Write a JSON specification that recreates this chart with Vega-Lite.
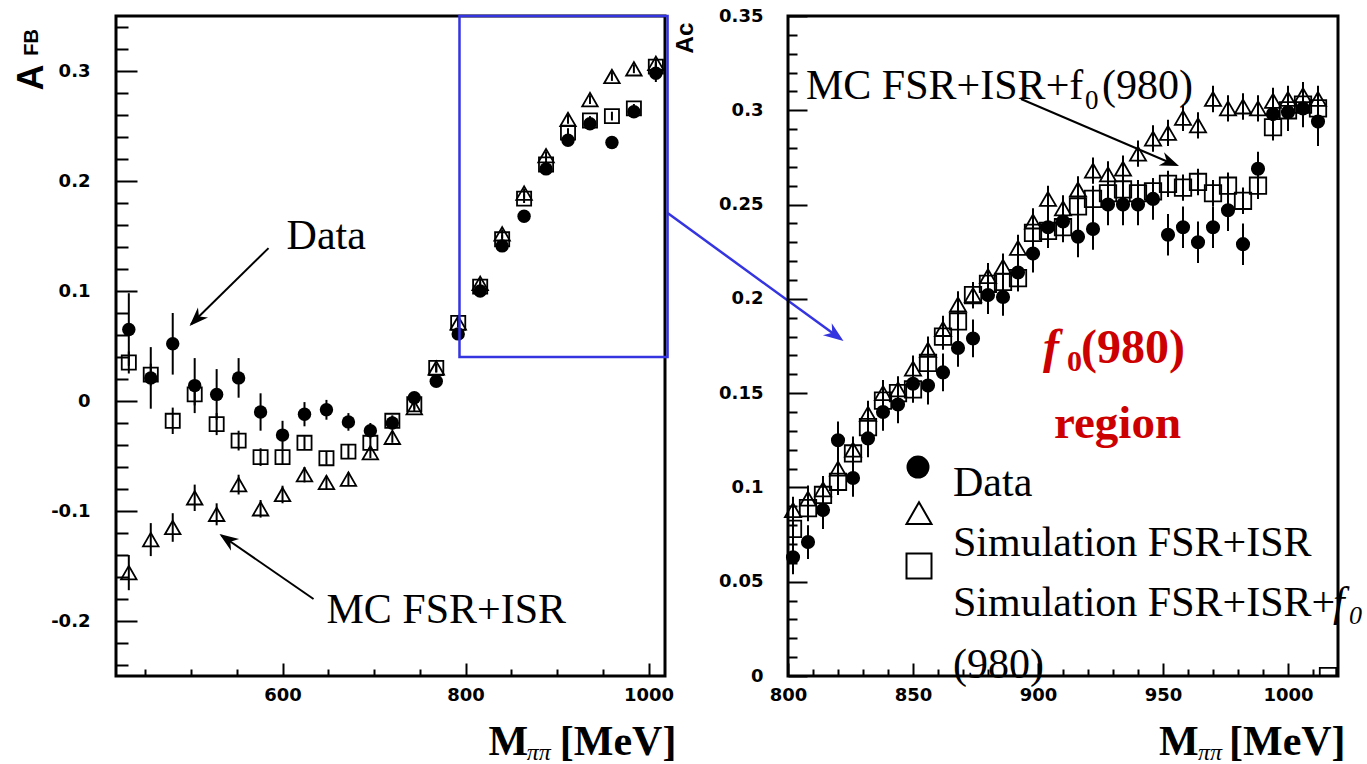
{
  "$schema": "https://vega.github.io/schema/vega-lite/v6.json",
  "background": "white",
  "padding": {"left": 12, "top": 5, "right": 0, "bottom": 0},
  "bounds": "flush",
  "spacing": 123,
  "config": {
    "view": {"stroke": "black", "strokeWidth": 3},
    "axis": {
      "domain": false, "grid": false,
      "labelFont": "DejaVu Sans", "labelFontWeight": "bold", "labelFontSize": 18, "labelColor": "black",
      "tickColor": "black", "tickWidth": 2, "tickCount": 200,
      "labelFlush": false, "labelOverlap": false, "labelBound": false
    },
    "text": {"font": "Liberation Serif", "fontSize": 42, "color": "black", "align": "left", "baseline": "alphabetic"}
  },
  "datasets": {
    "left": [
      {"M": 432, "series": "data", "v": 0.065, "err": 0.033}, {"M": 432, "series": "fsr", "v": -0.156, "err": 0.016}, {"M": 432, "series": "f0", "v": 0.035, "err": 0.01},
      {"M": 456, "series": "data", "v": 0.021, "err": 0.028}, {"M": 456, "series": "fsr", "v": -0.126, "err": 0.015}, {"M": 456, "series": "f0", "v": 0.024, "err": 0.01},
      {"M": 480, "series": "data", "v": 0.052, "err": 0.028}, {"M": 480, "series": "fsr", "v": -0.115, "err": 0.013}, {"M": 480, "series": "f0", "v": -0.018, "err": 0.012},
      {"M": 504, "series": "data", "v": 0.014, "err": 0.025}, {"M": 504, "series": "fsr", "v": -0.088, "err": 0.012}, {"M": 504, "series": "f0", "v": 0.006, "err": 0.01},
      {"M": 528, "series": "data", "v": 0.006, "err": 0.023}, {"M": 528, "series": "fsr", "v": -0.103, "err": 0.01}, {"M": 528, "series": "f0", "v": -0.021, "err": 0.01},
      {"M": 552, "series": "data", "v": 0.021, "err": 0.018}, {"M": 552, "series": "fsr", "v": -0.076, "err": 0.009}, {"M": 552, "series": "f0", "v": -0.036, "err": 0.009},
      {"M": 576, "series": "data", "v": -0.01, "err": 0.017}, {"M": 576, "series": "fsr", "v": -0.098, "err": 0.008}, {"M": 576, "series": "f0", "v": -0.051, "err": 0.008},
      {"M": 600, "series": "data", "v": -0.031, "err": 0.013}, {"M": 600, "series": "fsr", "v": -0.085, "err": 0.008}, {"M": 600, "series": "f0", "v": -0.051, "err": 0.007},
      {"M": 624, "series": "data", "v": -0.012, "err": 0.011}, {"M": 624, "series": "fsr", "v": -0.067, "err": 0.007}, {"M": 624, "series": "f0", "v": -0.038, "err": 0.006},
      {"M": 648, "series": "data", "v": -0.008, "err": 0.009}, {"M": 648, "series": "fsr", "v": -0.074, "err": 0.006}, {"M": 648, "series": "f0", "v": -0.052, "err": 0.006},
      {"M": 672, "series": "data", "v": -0.019, "err": 0.008}, {"M": 672, "series": "fsr", "v": -0.071, "err": 0.006}, {"M": 672, "series": "f0", "v": -0.046, "err": 0.006},
      {"M": 696, "series": "data", "v": -0.027, "err": 0.007}, {"M": 696, "series": "fsr", "v": -0.047, "err": 0.005}, {"M": 696, "series": "f0", "v": -0.038, "err": 0.005},
      {"M": 720, "series": "data", "v": -0.02, "err": 0.006}, {"M": 720, "series": "fsr", "v": -0.033, "err": 0.005}, {"M": 720, "series": "f0", "v": -0.018, "err": 0.005},
      {"M": 744, "series": "data", "v": 0.003, "err": 0.005}, {"M": 744, "series": "fsr", "v": -0.006, "err": 0.004}, {"M": 744, "series": "f0", "v": -0.003, "err": 0.004},
      {"M": 768, "series": "data", "v": 0.018, "err": 0.004}, {"M": 768, "series": "fsr", "v": 0.03, "err": 0.004}, {"M": 768, "series": "f0", "v": 0.03, "err": 0.004},
      {"M": 792, "series": "data", "v": 0.061, "err": 0.004}, {"M": 792, "series": "fsr", "v": 0.071, "err": 0.004}, {"M": 792, "series": "f0", "v": 0.071, "err": 0.004},
      {"M": 816, "series": "data", "v": 0.1, "err": 0.004}, {"M": 816, "series": "fsr", "v": 0.107, "err": 0.004}, {"M": 816, "series": "f0", "v": 0.104, "err": 0.004},
      {"M": 840, "series": "data", "v": 0.141, "err": 0.004}, {"M": 840, "series": "fsr", "v": 0.152, "err": 0.004}, {"M": 840, "series": "f0", "v": 0.147, "err": 0.004},
      {"M": 864, "series": "data", "v": 0.168, "err": 0.004}, {"M": 864, "series": "fsr", "v": 0.189, "err": 0.004}, {"M": 864, "series": "f0", "v": 0.184, "err": 0.004},
      {"M": 888, "series": "data", "v": 0.211, "err": 0.004}, {"M": 888, "series": "fsr", "v": 0.223, "err": 0.004}, {"M": 888, "series": "f0", "v": 0.215, "err": 0.004},
      {"M": 912, "series": "data", "v": 0.237, "err": 0.004}, {"M": 912, "series": "fsr", "v": 0.256, "err": 0.004}, {"M": 912, "series": "f0", "v": 0.244, "err": 0.004},
      {"M": 936, "series": "data", "v": 0.252, "err": 0.004}, {"M": 936, "series": "fsr", "v": 0.274, "err": 0.004}, {"M": 936, "series": "f0", "v": 0.255, "err": 0.004},
      {"M": 960, "series": "data", "v": 0.235, "err": 0.004}, {"M": 960, "series": "fsr", "v": 0.295, "err": 0.004}, {"M": 960, "series": "f0", "v": 0.259, "err": 0.004},
      {"M": 984, "series": "data", "v": 0.263, "err": 0.005}, {"M": 984, "series": "fsr", "v": 0.302, "err": 0.004}, {"M": 984, "series": "f0", "v": 0.266, "err": 0.004},
      {"M": 1008, "series": "data", "v": 0.298, "err": 0.008}, {"M": 1008, "series": "fsr", "v": 0.307, "err": 0.004}, {"M": 1008, "series": "f0", "v": 0.304, "err": 0.004}
    ],
    "right": [
      {"M": 802, "series": "data", "v": 0.063, "err": 0.009}, {"M": 802, "series": "fsr", "v": 0.088, "err": 0.007}, {"M": 802, "series": "f0", "v": 0.078, "err": 0.007},
      {"M": 808, "series": "data", "v": 0.071, "err": 0.009}, {"M": 808, "series": "fsr", "v": 0.094, "err": 0.007}, {"M": 808, "series": "f0", "v": 0.089, "err": 0.007},
      {"M": 814, "series": "data", "v": 0.088, "err": 0.01}, {"M": 814, "series": "fsr", "v": 0.099, "err": 0.007}, {"M": 814, "series": "f0", "v": 0.096, "err": 0.007},
      {"M": 820, "series": "data", "v": 0.125, "err": 0.01}, {"M": 820, "series": "fsr", "v": 0.11, "err": 0.007}, {"M": 820, "series": "f0", "v": 0.103, "err": 0.007},
      {"M": 826, "series": "data", "v": 0.105, "err": 0.01}, {"M": 826, "series": "fsr", "v": 0.12, "err": 0.007}, {"M": 826, "series": "f0", "v": 0.118, "err": 0.007},
      {"M": 832, "series": "data", "v": 0.126, "err": 0.01}, {"M": 832, "series": "fsr", "v": 0.139, "err": 0.007}, {"M": 832, "series": "f0", "v": 0.132, "err": 0.007},
      {"M": 838, "series": "data", "v": 0.14, "err": 0.01}, {"M": 838, "series": "fsr", "v": 0.15, "err": 0.007}, {"M": 838, "series": "f0", "v": 0.146, "err": 0.007},
      {"M": 844, "series": "data", "v": 0.144, "err": 0.01}, {"M": 844, "series": "fsr", "v": 0.152, "err": 0.007}, {"M": 844, "series": "f0", "v": 0.15, "err": 0.007},
      {"M": 850, "series": "data", "v": 0.155, "err": 0.01}, {"M": 850, "series": "fsr", "v": 0.163, "err": 0.007}, {"M": 850, "series": "f0", "v": 0.152, "err": 0.007},
      {"M": 856, "series": "data", "v": 0.154, "err": 0.01}, {"M": 856, "series": "fsr", "v": 0.173, "err": 0.007}, {"M": 856, "series": "f0", "v": 0.166, "err": 0.007},
      {"M": 862, "series": "data", "v": 0.161, "err": 0.01}, {"M": 862, "series": "fsr", "v": 0.184, "err": 0.007}, {"M": 862, "series": "f0", "v": 0.18, "err": 0.007},
      {"M": 868, "series": "data", "v": 0.174, "err": 0.01}, {"M": 868, "series": "fsr", "v": 0.197, "err": 0.007}, {"M": 868, "series": "f0", "v": 0.188, "err": 0.007},
      {"M": 874, "series": "data", "v": 0.179, "err": 0.01}, {"M": 874, "series": "fsr", "v": 0.202, "err": 0.007}, {"M": 874, "series": "f0", "v": 0.202, "err": 0.007},
      {"M": 880, "series": "data", "v": 0.202, "err": 0.01}, {"M": 880, "series": "fsr", "v": 0.212, "err": 0.007}, {"M": 880, "series": "f0", "v": 0.208, "err": 0.007},
      {"M": 886, "series": "data", "v": 0.201, "err": 0.01}, {"M": 886, "series": "fsr", "v": 0.217, "err": 0.007}, {"M": 886, "series": "f0", "v": 0.209, "err": 0.007},
      {"M": 892, "series": "data", "v": 0.214, "err": 0.01}, {"M": 892, "series": "fsr", "v": 0.227, "err": 0.007}, {"M": 892, "series": "f0", "v": 0.211, "err": 0.007},
      {"M": 898, "series": "data", "v": 0.224, "err": 0.01}, {"M": 898, "series": "fsr", "v": 0.241, "err": 0.007}, {"M": 898, "series": "f0", "v": 0.235, "err": 0.007},
      {"M": 904, "series": "data", "v": 0.238, "err": 0.011}, {"M": 904, "series": "fsr", "v": 0.253, "err": 0.007}, {"M": 904, "series": "f0", "v": 0.236, "err": 0.007},
      {"M": 910, "series": "data", "v": 0.241, "err": 0.011}, {"M": 910, "series": "fsr", "v": 0.248, "err": 0.007}, {"M": 910, "series": "f0", "v": 0.238, "err": 0.007},
      {"M": 916, "series": "data", "v": 0.233, "err": 0.011}, {"M": 916, "series": "fsr", "v": 0.258, "err": 0.007}, {"M": 916, "series": "f0", "v": 0.249, "err": 0.007},
      {"M": 922, "series": "data", "v": 0.237, "err": 0.011}, {"M": 922, "series": "fsr", "v": 0.268, "err": 0.007}, {"M": 922, "series": "f0", "v": 0.253, "err": 0.007},
      {"M": 928, "series": "data", "v": 0.25, "err": 0.011}, {"M": 928, "series": "fsr", "v": 0.266, "err": 0.007}, {"M": 928, "series": "f0", "v": 0.256, "err": 0.007},
      {"M": 934, "series": "data", "v": 0.25, "err": 0.011}, {"M": 934, "series": "fsr", "v": 0.269, "err": 0.007}, {"M": 934, "series": "f0", "v": 0.258, "err": 0.007},
      {"M": 940, "series": "data", "v": 0.25, "err": 0.011}, {"M": 940, "series": "fsr", "v": 0.277, "err": 0.007}, {"M": 940, "series": "f0", "v": 0.256, "err": 0.007},
      {"M": 946, "series": "data", "v": 0.253, "err": 0.011}, {"M": 946, "series": "fsr", "v": 0.285, "err": 0.007}, {"M": 946, "series": "f0", "v": 0.257, "err": 0.007},
      {"M": 952, "series": "data", "v": 0.234, "err": 0.011}, {"M": 952, "series": "fsr", "v": 0.288, "err": 0.007}, {"M": 952, "series": "f0", "v": 0.261, "err": 0.007},
      {"M": 958, "series": "data", "v": 0.238, "err": 0.011}, {"M": 958, "series": "fsr", "v": 0.296, "err": 0.007}, {"M": 958, "series": "f0", "v": 0.259, "err": 0.007},
      {"M": 964, "series": "data", "v": 0.23, "err": 0.011}, {"M": 964, "series": "fsr", "v": 0.292, "err": 0.007}, {"M": 964, "series": "f0", "v": 0.262, "err": 0.007},
      {"M": 970, "series": "data", "v": 0.238, "err": 0.011}, {"M": 970, "series": "fsr", "v": 0.306, "err": 0.007}, {"M": 970, "series": "f0", "v": 0.256, "err": 0.007},
      {"M": 976, "series": "data", "v": 0.247, "err": 0.011}, {"M": 976, "series": "fsr", "v": 0.301, "err": 0.007}, {"M": 976, "series": "f0", "v": 0.26, "err": 0.007},
      {"M": 982, "series": "data", "v": 0.229, "err": 0.011}, {"M": 982, "series": "fsr", "v": 0.302, "err": 0.007}, {"M": 982, "series": "f0", "v": 0.252, "err": 0.007},
      {"M": 988, "series": "data", "v": 0.269, "err": 0.009}, {"M": 988, "series": "fsr", "v": 0.301, "err": 0.007}, {"M": 988, "series": "f0", "v": 0.26, "err": 0.007},
      {"M": 994, "series": "data", "v": 0.298, "err": 0.01}, {"M": 994, "series": "fsr", "v": 0.305, "err": 0.007}, {"M": 994, "series": "f0", "v": 0.291, "err": 0.007},
      {"M": 1000, "series": "data", "v": 0.299, "err": 0.01}, {"M": 1000, "series": "fsr", "v": 0.306, "err": 0.007}, {"M": 1000, "series": "f0", "v": 0.3, "err": 0.007},
      {"M": 1006, "series": "data", "v": 0.301, "err": 0.01}, {"M": 1006, "series": "fsr", "v": 0.308, "err": 0.007}, {"M": 1006, "series": "f0", "v": 0.303, "err": 0.007},
      {"M": 1012, "series": "data", "v": 0.294, "err": 0.013}, {"M": 1012, "series": "fsr", "v": 0.306, "err": 0.007}, {"M": 1012, "series": "f0", "v": 0.301, "err": 0.007},
      {"M": 1016, "series": "f0", "v": 0.0, "err": 0.0}
    ]
  },
  "hconcat": [
    {
      "width": 549,
      "height": 660,
      "layer": [
        {
          "data": {"name": "left"},
          "mark": {"type": "errorbar", "color": "black", "thickness": 2},
          "encoding": {
            "x": {
              "field": "M", "type": "quantitative", "title": null,
              "scale": {"domain": [418, 1018], "nice": false, "zero": false},
              "axis": {
                "values": [450, 500, 550, 600, 650, 700, 750, 800, 850, 900, 950, 1000],
                "format": "d",
                "labelExpr": "datum.value % 200 === 0 ? datum.label : ''",
                "tickSize": {"condition": {"test": "datum.value % 200 === 0", "value": -13}, "value": -7},
                "labelPadding": 23
              }
            },
            "y": {
              "field": "v", "type": "quantitative", "title": null,
              "scale": {"domain": [-0.25, 0.35], "nice": false, "zero": false},
              "axis": {
                "values": [-0.24, -0.22, -0.2, -0.18, -0.16, -0.14, -0.12, -0.1, -0.08, -0.06, -0.04, -0.02, 0, 0.02, 0.04, 0.06, 0.08, 0.1, 0.12, 0.14, 0.16, 0.18, 0.2, 0.22, 0.24, 0.26, 0.28, 0.3, 0.32, 0.34],
                "labelExpr": "abs(round(datum.value * 100)) % 10 === 0 ? (datum.value < -0.001 ? '-' : '') + format(abs(datum.value), '.1~f') : ''",
                "tickSize": {"condition": {"test": "abs(round(datum.value * 100)) % 10 === 0", "value": -21}, "value": -12},
                "labelPadding": 47
              }
            },
            "yError": {"field": "err"}
          }
        },
        {
          "data": {"name": "left"},
          "transform": [{"filter": "datum.series === 'data'"}],
          "mark": {"type": "point", "shape": "circle", "filled": true, "color": "black", "size": 180, "opacity": 1},
          "encoding": {"x": {"field": "M", "type": "quantitative"}, "y": {"field": "v", "type": "quantitative"}}
        },
        {
          "data": {"name": "left"},
          "transform": [{"filter": "datum.series === 'f0'"}],
          "mark": {"type": "point", "shape": "square", "filled": false, "color": "black", "strokeWidth": 1.8, "size": 200, "opacity": 1},
          "encoding": {"x": {"field": "M", "type": "quantitative"}, "y": {"field": "v", "type": "quantitative"}}
        },
        {
          "data": {"name": "left"},
          "transform": [{"filter": "datum.series === 'fsr'"}],
          "mark": {"type": "point", "shape": "triangle-up", "filled": false, "color": "black", "strokeWidth": 1.8, "size": 240, "opacity": 1},
          "encoding": {"x": {"field": "M", "type": "quantitative"}, "y": {"field": "v", "type": "quantitative"}}
        },
        {
          "data": {"values": [{}]},
          "mark": {"type": "rect", "filled": false, "color": "#3434e0", "strokeWidth": 2.5},
          "encoding": {
            "x": {"datum": 793.4, "type": "quantitative"}, "x2": {"datum": 1020.8},
            "y": {"datum": 0.04, "type": "quantitative"}, "y2": {"datum": 0.35}
          }
        },
        {
          "data": {"values": [{}]},
          "mark": {"type": "rule", "color": "#3434e0", "strokeWidth": 2.5},
          "encoding": {
            "x": {"datum": 1020.8, "type": "quantitative"}, "x2": {"datum": 1209},
            "y": {"datum": 0.1709, "type": "quantitative"}, "y2": {"datum": 0.057}
          }
        },
        {
          "data": {"values": [{}]},
          "mark": {"type": "point", "shape": "M0,0L-2,-0.75L-1.4,0L-2,0.75Z", "filled": true, "color": "#3434e0", "size": 400, "angle": 36, "opacity": 1, "strokeWidth": 0},
          "encoding": {"x": {"datum": 1213.1, "type": "quantitative"}, "y": {"datum": 0.0545, "type": "quantitative"}}
        },
        {
          "data": {"values": [{}]},
          "mark": {"type": "rule", "color": "black", "strokeWidth": 2},
          "encoding": {
            "x": {"datum": 584.7, "type": "quantitative"}, "x2": {"datum": 500},
            "y": {"datum": 0.139, "type": "quantitative"}, "y2": {"datum": 0.0697}
          }
        },
        {
          "data": {"values": [{}]},
          "mark": {"type": "point", "shape": "M0,0L-2,-0.75L-1.4,0L-2,0.75Z", "filled": true, "color": "black", "size": 360, "angle": 135, "opacity": 1, "strokeWidth": 0},
          "encoding": {"x": {"datum": 498.4, "type": "quantitative"}, "y": {"datum": 0.0682, "type": "quantitative"}}
        },
        {
          "data": {"values": [{}]},
          "mark": {"type": "rule", "color": "black", "strokeWidth": 2},
          "encoding": {
            "x": {"datum": 633.9, "type": "quantitative"}, "x2": {"datum": 533},
            "y": {"datum": -0.18, "type": "quantitative"}, "y2": {"datum": -0.122}
          }
        },
        {
          "data": {"values": [{}]},
          "mark": {"type": "point", "shape": "M0,0L-2,-0.75L-1.4,0L-2,0.75Z", "filled": true, "color": "black", "size": 360, "angle": 214.7, "opacity": 1, "strokeWidth": 0},
          "encoding": {"x": {"datum": 531.1, "type": "quantitative"}, "y": {"datum": -0.121, "type": "quantitative"}}
        },
        {
          "data": {"values": [{"t": "Data"}]},
          "mark": {"type": "text"},
          "encoding": {"x": {"datum": 604.4, "type": "quantitative"}, "y": {"datum": 0.138, "type": "quantitative"}, "text": {"field": "t"}}
        },
        {
          "data": {"values": [{"t": "MC FSR+ISR"}]},
          "mark": {"type": "text"},
          "encoding": {"x": {"datum": 648, "type": "quantitative"}, "y": {"datum": -0.202, "type": "quantitative"}, "text": {"field": "t"}}
        },
        {
          "data": {"values": [{"t": "A"}]},
          "mark": {"type": "text", "font": "Liberation Sans", "fontWeight": "bold", "fontSize": 36, "angle": 270, "align": "center", "baseline": "middle"},
          "encoding": {"x": {"datum": 325.7, "type": "quantitative"}, "y": {"datum": 0.2941, "type": "quantitative"}, "text": {"field": "t"}}
        },
        {
          "data": {"values": [{"t": "FB"}]},
          "mark": {"type": "text", "font": "Liberation Sans", "fontWeight": "bold", "fontSize": 20, "angle": 270, "align": "center", "baseline": "middle"},
          "encoding": {"x": {"datum": 325.7, "type": "quantitative"}, "y": {"datum": 0.3259, "type": "quantitative"}, "text": {"field": "t"}}
        },
        {
          "data": {"values": [{"t": "M"}]},
          "mark": {"type": "text", "fontWeight": "bold"},
          "encoding": {"x": {"datum": 825, "type": "quantitative"}, "y": {"datum": -0.3215, "type": "quantitative"}, "text": {"field": "t"}}
        },
        {
          "data": {"values": [{"t": "ππ"}]},
          "mark": {"type": "text", "fontSize": 24, "fontStyle": "italic"},
          "encoding": {"x": {"datum": 867, "type": "quantitative"}, "y": {"datum": -0.326, "type": "quantitative"}, "text": {"field": "t"}}
        },
        {
          "data": {"values": [{"t": "[MeV]"}]},
          "mark": {"type": "text", "fontWeight": "bold"},
          "encoding": {"x": {"datum": 903, "type": "quantitative"}, "y": {"datum": -0.3215, "type": "quantitative"}, "text": {"field": "t"}}
        }
      ]
    },
    {
      "width": 550,
      "height": 660,
      "layer": [
        {
          "data": {"name": "right"},
          "mark": {"type": "errorbar", "color": "black", "thickness": 2},
          "encoding": {
            "x": {
              "field": "M", "type": "quantitative", "title": null,
              "scale": {"domain": [800, 1020], "nice": false, "zero": false},
              "axis": {
                "values": [800, 810, 820, 830, 840, 850, 860, 870, 880, 890, 900, 910, 920, 930, 940, 950, 960, 970, 980, 990, 1000, 1010],
                "format": "d",
                "labelExpr": "datum.value % 50 === 0 ? datum.label : ''",
                "tickSize": {"condition": {"test": "datum.value % 50 === 0", "value": -13}, "value": -7},
                "labelPadding": 23
              }
            },
            "y": {
              "field": "v", "type": "quantitative", "title": null,
              "scale": {"domain": [0, 0.35], "nice": false, "zero": false},
              "axis": {
                "values": [0, 0.01, 0.02, 0.03, 0.04, 0.05, 0.06, 0.07, 0.08, 0.09, 0.1, 0.11, 0.12, 0.13, 0.14, 0.15, 0.16, 0.17, 0.18, 0.19, 0.2, 0.21, 0.22, 0.23, 0.24, 0.25, 0.26, 0.27, 0.28, 0.29, 0.3, 0.31, 0.32, 0.33, 0.34, 0.35],
                "labelExpr": "abs(round(datum.value * 100)) % 5 === 0 ? format(datum.value, '.2~f') : ''",
                "tickSize": {"condition": {"test": "abs(round(datum.value * 100)) % 5 === 0", "value": -19}, "value": -9},
                "labelPadding": 44
              }
            },
            "yError": {"field": "err"}
          }
        },
        {
          "data": {"name": "right"},
          "transform": [{"filter": "datum.series === 'data'"}],
          "mark": {"type": "point", "shape": "circle", "filled": true, "color": "black", "size": 200, "opacity": 1},
          "encoding": {"x": {"field": "M", "type": "quantitative"}, "y": {"field": "v", "type": "quantitative"}}
        },
        {
          "data": {"name": "right"},
          "transform": [{"filter": "datum.series === 'f0'"}],
          "mark": {"type": "point", "shape": "square", "filled": false, "color": "black", "strokeWidth": 1.8, "size": 270, "opacity": 1, "clip": true},
          "encoding": {"x": {"field": "M", "type": "quantitative"}, "y": {"field": "v", "type": "quantitative"}}
        },
        {
          "data": {"name": "right"},
          "transform": [{"filter": "datum.series === 'fsr'"}],
          "mark": {"type": "point", "shape": "triangle-up", "filled": false, "color": "black", "strokeWidth": 1.8, "size": 260, "opacity": 1},
          "encoding": {"x": {"field": "M", "type": "quantitative"}, "y": {"field": "v", "type": "quantitative"}}
        },
        {
          "data": {"values": [{}]},
          "mark": {"type": "rule", "color": "black", "strokeWidth": 2},
          "encoding": {
            "x": {"datum": 893.2, "type": "quantitative"}, "x2": {"datum": 954},
            "y": {"datum": 0.306, "type": "quantitative"}, "y2": {"datum": 0.2715}
          }
        },
        {
          "data": {"values": [{}]},
          "mark": {"type": "point", "shape": "M0,0L-2,-0.75L-1.4,0L-2,0.75Z", "filled": true, "color": "black", "size": 360, "angle": 21.7, "opacity": 1, "strokeWidth": 0},
          "encoding": {"x": {"datum": 956.4, "type": "quantitative"}, "y": {"datum": 0.2705, "type": "quantitative"}}
        },
        {
          "data": {"values": [{"t": "MC FSR+ISR+f"}]},
          "mark": {"type": "text"},
          "encoding": {"x": {"datum": 807.2, "type": "quantitative"}, "y": {"datum": 0.306, "type": "quantitative"}, "text": {"field": "t"}}
        },
        {
          "data": {"values": [{"t": "0"}]},
          "mark": {"type": "text", "fontSize": 27},
          "encoding": {"x": {"datum": 918.8, "type": "quantitative"}, "y": {"datum": 0.3007, "type": "quantitative"}, "text": {"field": "t"}}
        },
        {
          "data": {"values": [{"t": "(980)"}]},
          "mark": {"type": "text"},
          "encoding": {"x": {"datum": 925.6, "type": "quantitative"}, "y": {"datum": 0.306, "type": "quantitative"}, "text": {"field": "t"}}
        },
        {
          "data": {"values": [{"t": "f"}]},
          "mark": {"type": "text", "color": "#cc0000", "fontWeight": "bold", "fontStyle": "italic", "fontSize": 48},
          "encoding": {"x": {"datum": 902, "type": "quantitative"}, "y": {"datum": 0.166, "type": "quantitative"}, "text": {"field": "t"}}
        },
        {
          "data": {"values": [{"t": "0"}]},
          "mark": {"type": "text", "color": "#cc0000", "fontWeight": "bold", "fontSize": 30},
          "encoding": {"x": {"datum": 911.6, "type": "quantitative"}, "y": {"datum": 0.1617, "type": "quantitative"}, "text": {"field": "t"}}
        },
        {
          "data": {"values": [{"t": "(980)"}]},
          "mark": {"type": "text", "color": "#cc0000", "fontWeight": "bold", "fontSize": 48},
          "encoding": {"x": {"datum": 917.2, "type": "quantitative"}, "y": {"datum": 0.166, "type": "quantitative"}, "text": {"field": "t"}}
        },
        {
          "data": {"values": [{"t": "region"}]},
          "mark": {"type": "text", "color": "#cc0000", "fontWeight": "bold", "fontSize": 47},
          "encoding": {"x": {"datum": 906.4, "type": "quantitative"}, "y": {"datum": 0.1262, "type": "quantitative"}, "text": {"field": "t"}}
        },
        {
          "data": {"values": [{}]},
          "mark": {"type": "point", "shape": "circle", "filled": true, "color": "black", "size": 530, "opacity": 1},
          "encoding": {"x": {"datum": 852, "type": "quantitative"}, "y": {"datum": 0.1108, "type": "quantitative"}}
        },
        {
          "data": {"values": [{}]},
          "mark": {"type": "point", "shape": "triangle-up", "filled": false, "color": "black", "strokeWidth": 2, "size": 625, "opacity": 1},
          "encoding": {"x": {"datum": 852.4, "type": "quantitative"}, "y": {"datum": 0.0864, "type": "quantitative"}}
        },
        {
          "data": {"values": [{}]},
          "mark": {"type": "point", "shape": "square", "filled": false, "color": "black", "strokeWidth": 2, "size": 625, "opacity": 1},
          "encoding": {"x": {"datum": 852.4, "type": "quantitative"}, "y": {"datum": 0.0583, "type": "quantitative"}}
        },
        {
          "data": {"values": [{"t": "Data"}]},
          "mark": {"type": "text"},
          "encoding": {"x": {"datum": 866, "type": "quantitative"}, "y": {"datum": 0.0955, "type": "quantitative"}, "text": {"field": "t"}}
        },
        {
          "data": {"values": [{"t": "Simulation FSR+ISR"}]},
          "mark": {"type": "text"},
          "encoding": {"x": {"datum": 866, "type": "quantitative"}, "y": {"datum": 0.0636, "type": "quantitative"}, "text": {"field": "t"}}
        },
        {
          "data": {"values": [{"t": "Simulation FSR+ISR+"}]},
          "mark": {"type": "text"},
          "encoding": {"x": {"datum": 866, "type": "quantitative"}, "y": {"datum": 0.0318, "type": "quantitative"}, "text": {"field": "t"}}
        },
        {
          "data": {"values": [{"t": "f"}]},
          "mark": {"type": "text", "fontStyle": "italic"},
          "encoding": {"x": {"datum": 1018, "type": "quantitative"}, "y": {"datum": 0.0318, "type": "quantitative"}, "text": {"field": "t"}}
        },
        {
          "data": {"values": [{"t": "0"}]},
          "mark": {"type": "text", "fontStyle": "italic", "fontSize": 26},
          "encoding": {"x": {"datum": 1024.4, "type": "quantitative"}, "y": {"datum": 0.0276, "type": "quantitative"}, "text": {"field": "t"}}
        },
        {
          "data": {"values": [{"t": "(980)"}]},
          "mark": {"type": "text"},
          "encoding": {"x": {"datum": 866, "type": "quantitative"}, "y": {"datum": -0.001, "type": "quantitative"}, "text": {"field": "t"}}
        },
        {
          "data": {"values": [{"t": "Ac"}]},
          "mark": {"type": "text", "font": "Liberation Sans", "fontWeight": "bold", "fontSize": 24, "angle": 270, "align": "center", "baseline": "middle"},
          "encoding": {"x": {"datum": 759.2, "type": "quantitative"}, "y": {"datum": 0.3383, "type": "quantitative"}, "text": {"field": "t"}}
        },
        {
          "data": {"values": [{"t": "M"}]},
          "mark": {"type": "text", "fontWeight": "bold"},
          "encoding": {"x": {"datum": 948.4, "type": "quantitative"}, "y": {"datum": -0.0419, "type": "quantitative"}, "text": {"field": "t"}}
        },
        {
          "data": {"values": [{"t": "ππ"}]},
          "mark": {"type": "text", "fontSize": 24, "fontStyle": "italic"},
          "encoding": {"x": {"datum": 964, "type": "quantitative"}, "y": {"datum": -0.0445, "type": "quantitative"}, "text": {"field": "t"}}
        },
        {
          "data": {"values": [{"t": "[MeV]"}]},
          "mark": {"type": "text", "fontWeight": "bold"},
          "encoding": {"x": {"datum": 976.4, "type": "quantitative"}, "y": {"datum": -0.0419, "type": "quantitative"}, "text": {"field": "t"}}
        }
      ]
    }
  ]
}
